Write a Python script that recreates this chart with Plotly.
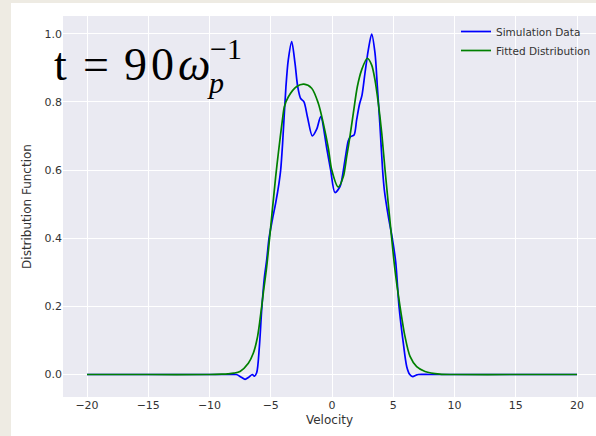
import plotly.graph_objects as go

# Simulation data
v_sim = [-20, -15, -10, -8.5, -7.8, -7.4, -7.1, -6.8, -6.5, -6.34, -6.15, -5.93, -5.74, -5.52,
         -5.33, -5.14, -4.87, -4.6, -4.33, -4.19, -4.03, -3.76, -3.57, -3.29, -3.02, -2.8,
         -2.56, -2.29, -2.0, -1.61, -1.25, -0.92, -0.43, -0.11, 0.24, 0.65, 1.06, 1.33, 1.52,
         1.8, 2.01, 2.23, 2.45, 2.69, 2.96, 3.24, 3.51, 3.7, 3.92, 4.13, 4.27, 4.6, 4.92, 5.2,
         5.47, 5.82, 6.1, 6.35, 6.59, 6.85, 7.05, 8, 10, 15, 20]
f_sim = [0, 0, 0, 0, 0, -0.008, -0.014, -0.008, 0.0, -0.005, 0.005, 0.082, 0.19, 0.285,
         0.337, 0.40, 0.454, 0.503, 0.561, 0.60, 0.68, 0.845, 0.923, 0.977, 0.913, 0.845,
         0.81, 0.80, 0.755, 0.70, 0.72, 0.757, 0.664, 0.60, 0.534, 0.551, 0.63, 0.686, 0.698,
         0.703, 0.747, 0.791, 0.82, 0.884, 0.952, 0.999, 0.943, 0.845, 0.727, 0.60, 0.542,
         0.463, 0.40, 0.33, 0.20, 0.092, 0.023, 0.0, -0.006, -0.002, 0.0, 0, 0, 0, 0]

# Fitted distribution
v_fit = [-20, -15, -10, -9, -8.5, -8, -7.51, -6.83, -6.42, -6.1, -5.88, -5.61, -5.33, -4.87,
         -4.6, -4.38, -4.05, -3.89, -3.56, -2.88, -2.29, -1.66, -1.12, -0.71, -0.3, -0.02,
         0.51, 0.92, 1.2, 1.47, 1.74, 2.07, 2.42, 2.88, 3.24, 3.51, 3.78, 4.06, 4.33, 4.87,
         5.14, 5.55, 5.96, 6.37, 6.91, 7.59, 8.8, 10, 15, 20]
f_fit = [0, 0, 0, 0.001, 0.002, 0.004, 0.009, 0.033, 0.063, 0.107, 0.16, 0.239, 0.317, 0.483,
         0.58, 0.65, 0.747, 0.786, 0.815, 0.845, 0.852, 0.84, 0.796, 0.737, 0.664, 0.60,
         0.55, 0.58, 0.64, 0.70, 0.767, 0.845, 0.894, 0.928, 0.908, 0.864, 0.796, 0.708,
         0.60, 0.40, 0.307, 0.20, 0.111, 0.053, 0.023, 0.009, 0.001, 0, 0, 0]

x_ticks = [-20, -15, -10, -5, 0, 5, 10, 15, 20]
y_ticks = [0.0, 0.2, 0.4, 0.6, 0.8, 1.0]
series_names = ["Simulation Data", "Fitted Distribution"]

W, H = 596, 436
ML, MR, MT, MB = 63, 0, 16, 39
PW, PH = W - ML - MR, H - MT - MB


def px(x):
    return (x - ML) / PW


def py(y):
    return (H - MB - y) / PH


fig = go.Figure()
fig.add_trace(go.Scatter(x=v_sim, y=f_sim, mode="lines", name=series_names[0],
                         line=dict(color="#0000FF", width=1.7, shape="spline", smoothing=0.8)))
fig.add_trace(go.Scatter(x=v_fit, y=f_fit, mode="lines", name=series_names[1],
                         line=dict(color="#008000", width=1.7, shape="spline", smoothing=0.8)))

tickfont = dict(family="DejaVu Sans", size=11, color="#333333")
fig.update_layout(
    width=W, height=H,
    margin=dict(l=ML, r=MR, t=MT, b=MB, autoexpand=False),
    paper_bgcolor="white",
    plot_bgcolor="#EAEAF2",
    font=dict(family="DejaVu Sans", color="#333333"),
    xaxis=dict(range=[-21.96, 21.55], tickvals=x_ticks,
               ticktext=[str(t).replace("-", "\u2212") for t in x_ticks],
               showgrid=True, gridcolor="white", gridwidth=1.3, zeroline=False,
               showline=False, ticks="", tickfont=tickfont,
               title=dict(text="Velocity", font=dict(family="DejaVu Sans", size=12, color="#333333"),
                          standoff=4)),
    yaxis=dict(range=[-0.066, 1.052], tickvals=y_ticks,
               ticktext=[f"{t:.1f}" for t in y_ticks],
               showgrid=True, gridcolor="white", gridwidth=1.3, zeroline=False,
               showline=False, ticks="", tickfont=tickfont,
               title=dict(text="Distribution Function",
                          font=dict(family="DejaVu Sans", size=12, color="#333333"), standoff=10)),
    legend=dict(x=1, y=py(17), xanchor="right", yanchor="top",
                bgcolor="rgba(0,0,0,0)", font=dict(family="DejaVu Sans", size=10.5, color="#333333"),
                itemwidth=30, tracegroupgap=0),
    showlegend=True,
)

# beige frame strips outside the white figure
beige = "#EEEBE3"
fig.add_shape(type="rect", xref="paper", yref="paper", x0=px(0), x1=px(11), y0=py(H), y1=py(0),
              fillcolor=beige, line=dict(width=0), layer="below")
fig.add_shape(type="rect", xref="paper", yref="paper", x0=px(0), x1=px(W), y0=py(3), y1=py(0),
              fillcolor=beige, line=dict(width=0), layer="below")

# title-like annotation: t = 90 ω_p^{-1}
serif = "Liberation Serif"
big = dict(family=serif, size=46, color="black")
small = dict(family=serif, size=30, color="black")


def label(x, y, text, font, anchor="left"):
    fig.add_annotation(xref="paper", yref="paper", x=px(x), y=py(y), xanchor=anchor,
                       yanchor="middle", text=text, showarrow=False, font=font, borderpad=0)


label(53, 64, "t", big)
label(96, 64, "=", big, "center")
label(123, 64, "9", big)
label(150, 64, "0", big)
label(177, 64, "<i>ω</i>", big)
label(206, 82, "<i>p</i>", small)
label(209, 48, "\u22121", small)

fig.write_html("out.html")
